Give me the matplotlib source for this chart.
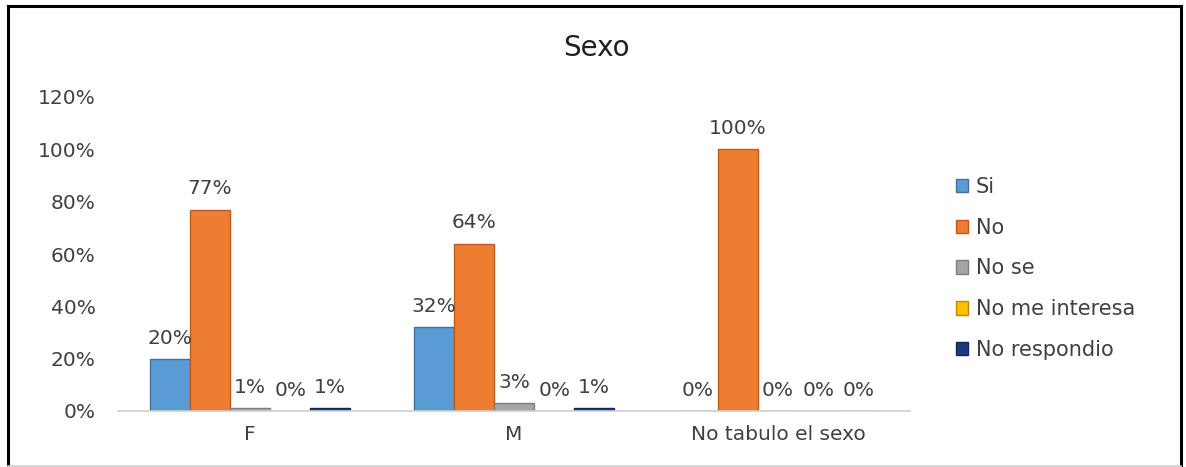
import matplotlib
matplotlib.use("Agg")
import matplotlib.pyplot as plt
from matplotlib.lines import Line2D
import numpy as np

categories = ["F", "M", "No tabulo el sexo"]
series_names = ["Si", "No", "No se", "No me interesa", "No respondio"]
si = [20, 32, 0]
no = [77, 64, 100]
no_se = [1, 3, 0]
no_me_interesa = [0, 0, 0]
no_respondio = [1, 1, 0]
series_values = [si, no, no_se, no_me_interesa, no_respondio]
y_ticks = [0, 20, 40, 60, 80, 100, 120]

face_colors = ["#5B9BD5", "#ED7D31", "#A5A5A5", "#FFC000", "#1F3A7A"]
edge_colors = ["#41719C", "#C05A18", "#7F7F7F", "#BC8C00", "#14275A"]

plt.rcParams["font.family"] = ["DejaVu Sans"]
TXT = "#404040"
FS = 14.5

fig = plt.figure(figsize=(11.86, 4.67), dpi=100)
W, H = 1186, 467

def fx(px):
    return px / W

def fy(py):
    return 1 - py / H

# chart frame
fig.add_artist(Line2D([fx(8), fx(8)], [fy(6), fy(466)], color="black", lw=2.2))
fig.add_artist(Line2D([fx(8), fx(1181)], [fy(6), fy(6)], color="black", lw=2.2))
fig.add_artist(Line2D([fx(1181), fx(1181)], [fy(6), fy(466)], color="black", lw=2.2))
fig.add_artist(Line2D([fx(8), fx(1181)], [fy(466), fy(466)], color="#D0D0D0", lw=1.2))

ax = fig.add_axes([fx(118), fy(411), fx(910) - fx(118), fy(97) - fy(411)])

n = len(series_names)
group_w = 0.76
bar_w = group_w / n
x = np.arange(len(categories))

for i, (name, vals) in enumerate(zip(series_names, series_values)):
    offs = -group_w / 2 + bar_w * (i + 0.5)
    ax.bar(x + offs, vals, width=bar_w, color=face_colors[i],
           edgecolor=edge_colors[i], linewidth=1.0, label=name, zorder=2)
    for xi, v in zip(x + offs, vals):
        ax.annotate(f"{v}%", (xi, v), xytext=(0, 8), textcoords="offset points",
                    ha="center", va="bottom", fontsize=FS, color=TXT)

ax.set_xlim(-0.5, len(categories) - 0.5)
ax.set_ylim(0, 120)
ax.set_yticks(y_ticks)
ax.set_yticklabels([f"{t}%" for t in y_ticks], fontsize=FS, color=TXT)
ax.set_xticks(x)
ax.set_xticklabels(categories, fontsize=FS, color=TXT)
ax.tick_params(axis="both", length=0)
ax.tick_params(axis="y", pad=16)
ax.tick_params(axis="x", pad=10)
for side in ["top", "right", "left"]:
    ax.spines[side].set_visible(False)
ax.spines["bottom"].set_color("#D0D0D0")
ax.spines["bottom"].set_linewidth(1.2)

fig.text(fx(596), fy(48), "Sexo", ha="center", va="center", fontsize=20, color="#202020")

fig.legend(loc="upper left", bbox_to_anchor=(fx(937), fy(158)), frameon=False,
           fontsize=15, handlelength=0.6, handleheight=0.6, handletextpad=0.35,
           labelspacing=1.0, labelcolor=TXT)

fig.savefig("out.png", dpi=100)
